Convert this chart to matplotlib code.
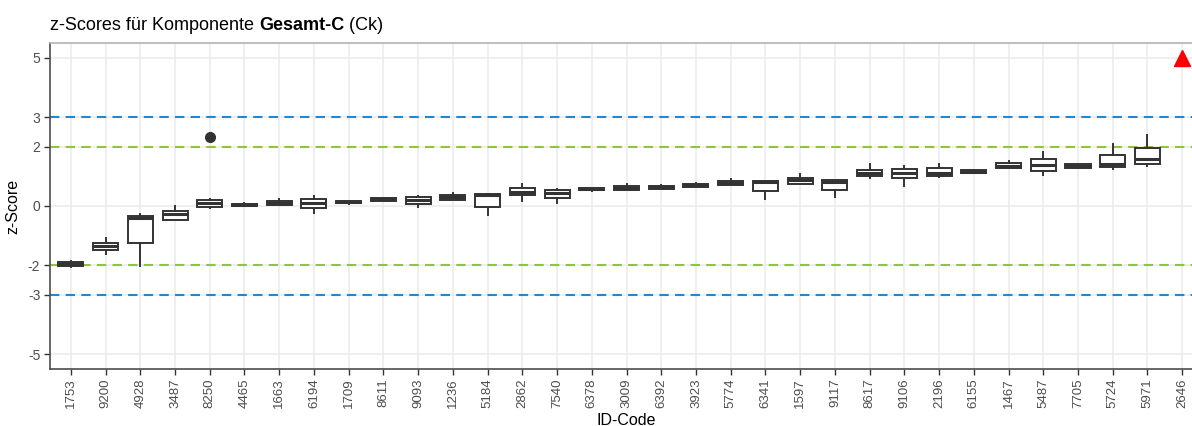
import matplotlib
matplotlib.use("Agg")
import matplotlib.pyplot as plt

plt.rcParams['font.family'] = ['Liberation Sans', 'DejaVu Sans']

# labs in plot order (sorted by median z-score)
ids = ['1753', '9200', '4928', '3487', '8250', '4465', '1663', '6194', '1709',
       '8611', '9093', '1236', '5184', '2862', '7540', '6378', '3009', '6392',
       '3923', '5774', '6341', '1597', '9117', '8617', '9106', '2196', '6155',
       '1467', '5487', '7705', '5724', '5971', '2646']

# box statistics (2646 has no box, only an off-scale value)
whislo = [-2.05, -1.62, -2.02, -0.47, -0.08, -0.01, 0.02, -0.22, 0.08, 0.16, -0.02,
          0.20, -0.31, 0.16, 0.11, 0.52, 0.54, 0.56, 0.63, 0.70, 0.22, 0.74, 0.29,
          0.96, 0.69, 0.98, 1.11, 1.28, 1.03, 1.28, 1.26, 1.34]
q1 = [-2.03, -1.48, -1.26, -0.46, -0.03, 0.01, 0.04, -0.08, 0.09, 0.17, 0.08,
      0.21, -0.02, 0.36, 0.28, 0.53, 0.55, 0.57, 0.64, 0.71, 0.50, 0.75, 0.55,
      1.00, 0.94, 1.00, 1.12, 1.29, 1.18, 1.29, 1.30, 1.40]
med = [-1.97, -1.36, -0.42, -0.27, 0.09, 0.04, 0.10, 0.11, 0.13, 0.22, 0.20,
       0.30, 0.37, 0.47, 0.43, 0.57, 0.60, 0.63, 0.70, 0.78, 0.80, 0.88, 0.82,
       1.12, 1.10, 1.11, 1.16, 1.36, 1.38, 1.35, 1.42, 1.58]
q3 = [-1.90, -1.24, -0.34, -0.16, 0.19, 0.08, 0.17, 0.23, 0.17, 0.26, 0.30,
      0.37, 0.39, 0.60, 0.53, 0.61, 0.66, 0.69, 0.75, 0.84, 0.84, 0.96, 0.87,
      1.22, 1.26, 1.28, 1.21, 1.44, 1.60, 1.42, 1.73, 1.96]
whishi = [-1.87, -1.09, -0.27, 0.00, 0.24, 0.09, 0.22, 0.33, 0.18, 0.27, 0.34,
          0.45, 0.40, 0.74, 0.56, 0.62, 0.74, 0.70, 0.76, 0.90, 0.85, 1.08, 0.88,
          1.40, 1.34, 1.40, 1.22, 1.52, 1.81, 1.43, 2.10, 2.39]
outliers = {'8250': [2.32]}

# values beyond the axis limit, drawn as triangle at the limit
off_ids = ['2646']
off_vals = [5.0]

y_ticks = [-5, -3, -2, 0, 2, 3, 5]
warn_lim = 2
action_lim = 3

fig = plt.figure(figsize=(11.92, 4.26), dpi=100)
ax = fig.add_axes([0.04195, 0.1338, 0.9673, 0.7653])

pos = {k: i for i, k in enumerate(ids)}

stats = []
for i in range(len(med)):
    stats.append({'whislo': whislo[i], 'q1': q1[i], 'med': med[i], 'q3': q3[i],
                  'whishi': whishi[i], 'fliers': outliers.get(ids[i], [])})

box_col = '#333333'
ax.bxp(stats, positions=list(range(len(med))), widths=0.72, patch_artist=True,
       showcaps=False, zorder=3,
       boxprops=dict(facecolor='white', edgecolor=box_col, linewidth=1.4),
       medianprops=dict(color=box_col, linewidth=2.2, solid_capstyle='butt'),
       whiskerprops=dict(color=box_col, linewidth=1.4),
       flierprops=dict(marker='o', markerfacecolor=box_col, markeredgecolor=box_col,
                       markersize=7))

ax.plot([pos[k] for k in off_ids], off_vals, linestyle='none', marker='^',
        color='#ff0000', markersize=11, zorder=4, clip_on=False)

for v in (warn_lim, -warn_lim):
    ax.axhline(v, color='#8cc63f', linewidth=1.5, dashes=(4.5, 3), zorder=2)
for v in (action_lim, -action_lim):
    ax.axhline(v, color='#1e88d0', linewidth=1.5, dashes=(4.5, 3), zorder=2)

ax.set_xlim(-0.6, len(ids) - 0.4)
ax.set_ylim(-5.5, 5.5)
ax.set_xticks(range(len(ids)))
ax.set_xticklabels(ids, rotation=90, fontsize=9.5, color='#4d4d4d')
ax.set_yticks(y_ticks)
ax.set_yticklabels([str(t) for t in y_ticks], fontsize=10, color='#4d4d4d')
ax.tick_params(axis='both', length=4, width=1, color='#333333', pad=3)

ax.grid(True, color='#ebebeb', linewidth=1.1, zorder=0)
ax.set_axisbelow(True)
for s in ('top', 'right'):
    ax.spines[s].set_color('#b3b3b3')
    ax.spines[s].set_linewidth(1.2)
for s in ('left', 'bottom'):
    ax.spines[s].set_color('#4d4d4d')
    ax.spines[s].set_linewidth(1.2)

ax.set_xlabel('ID-Code', fontsize=11.5, labelpad=3)
ax.set_ylabel('z-Score', fontsize=11.5, labelpad=5)

# title with bold component name
t1 = fig.text(50 / 1192, 1 - 30 / 426, 'z-Scores für Komponente ', fontsize=13,
              ha='left', va='baseline')
t2 = ax.annotate('Gesamt-C', xy=(1, 0), xycoords=t1, fontsize=13,
                 fontweight='bold', ha='left', va='bottom')
t3 = ax.annotate(' (Ck)', xy=(1, 0), xycoords=t2, fontsize=13,
                 ha='left', va='bottom')

fig.savefig('out.png', dpi=100)
